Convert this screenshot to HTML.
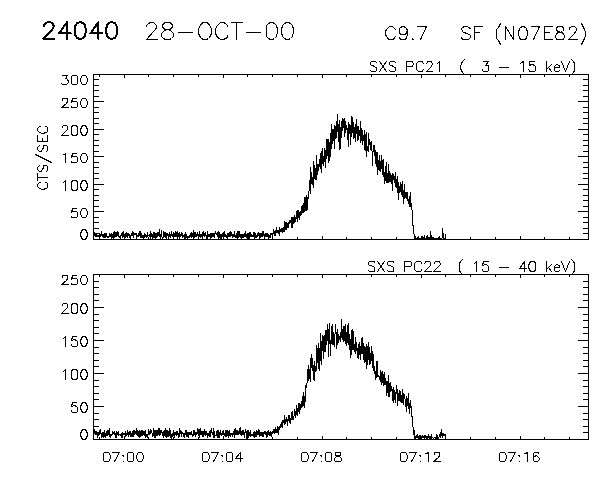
<!DOCTYPE html>
<html><head><meta charset="utf-8"><title>24040 28-OCT-00</title>
<style>
html,body{margin:0;padding:0;background:#fff;font-family:"Liberation Sans",sans-serif;}
svg{display:block;}
</style></head>
<body>
<svg width="600" height="480" viewBox="0 0 600 480">
<rect x="0" y="0" width="600" height="480" fill="#fff"/>
<g fill="none" stroke="#000" stroke-width="1" shape-rendering="crispEdges" stroke-linecap="square" stroke-linejoin="miter">
<path d="M93.5 74.5 H588.5 V239.5 H93.5 Z M99.5 75 v2 M99.5 239 v-2 M124.5 75 v3 M124.5 239 v-3 M148.5 75 v2 M148.5 239 v-2 M173.5 75 v2 M173.5 239 v-2 M198.5 75 v2 M198.5 239 v-2 M223.5 75 v3 M223.5 239 v-3 M247.5 75 v2 M247.5 239 v-2 M272.5 75 v2 M272.5 239 v-2 M297.5 75 v2 M297.5 239 v-2 M322.5 75 v3 M322.5 239 v-3 M346.5 75 v2 M346.5 239 v-2 M371.5 75 v2 M371.5 239 v-2 M396.5 75 v2 M396.5 239 v-2 M421.5 75 v3 M421.5 239 v-3 M445.5 75 v2 M445.5 239 v-2 M470.5 75 v2 M470.5 239 v-2 M495.5 75 v2 M495.5 239 v-2 M520.5 75 v3 M520.5 239 v-3 M544.5 75 v2 M544.5 239 v-2 M569.5 75 v2 M569.5 239 v-2 M94 233.5 h5 M588 233.5 h-5 M94 228.5 h5 M588 228.5 h-5 M94 222.5 h5 M588 222.5 h-5 M94 217.5 h5 M588 217.5 h-5 M94 211.5 h10 M588 211.5 h-10 M94 206.5 h5 M588 206.5 h-5 M94 200.5 h5 M588 200.5 h-5 M94 195.5 h5 M588 195.5 h-5 M94 189.5 h5 M588 189.5 h-5 M94 184.5 h10 M588 184.5 h-10 M94 178.5 h5 M588 178.5 h-5 M94 173.5 h5 M588 173.5 h-5 M94 167.5 h5 M588 167.5 h-5 M94 162.5 h5 M588 162.5 h-5 M94 156.5 h10 M588 156.5 h-10 M94 151.5 h5 M588 151.5 h-5 M94 145.5 h5 M588 145.5 h-5 M94 140.5 h5 M588 140.5 h-5 M94 134.5 h5 M588 134.5 h-5 M94 129.5 h10 M588 129.5 h-10 M94 123.5 h5 M588 123.5 h-5 M94 118.5 h5 M588 118.5 h-5 M94 112.5 h5 M588 112.5 h-5 M94 107.5 h5 M588 107.5 h-5 M94 101.5 h10 M588 101.5 h-10 M94 96.5 h5 M588 96.5 h-5 M94 90.5 h5 M588 90.5 h-5 M94 85.5 h5 M588 85.5 h-5 M94 79.5 h5 M588 79.5 h-5" stroke-width="1" stroke-linecap="butt"/>
<path d="M93.5 274.5 H588.5 V439.5 H93.5 Z M99.5 275 v2 M99.5 439 v-2 M124.5 275 v3 M124.5 439 v-3 M148.5 275 v2 M148.5 439 v-2 M173.5 275 v2 M173.5 439 v-2 M198.5 275 v2 M198.5 439 v-2 M223.5 275 v3 M223.5 439 v-3 M247.5 275 v2 M247.5 439 v-2 M272.5 275 v2 M272.5 439 v-2 M297.5 275 v2 M297.5 439 v-2 M322.5 275 v3 M322.5 439 v-3 M346.5 275 v2 M346.5 439 v-2 M371.5 275 v2 M371.5 439 v-2 M396.5 275 v2 M396.5 439 v-2 M421.5 275 v3 M421.5 439 v-3 M445.5 275 v2 M445.5 439 v-2 M470.5 275 v2 M470.5 439 v-2 M495.5 275 v2 M495.5 439 v-2 M520.5 275 v3 M520.5 439 v-3 M544.5 275 v2 M544.5 439 v-2 M569.5 275 v2 M569.5 439 v-2 M94 432.5 h5 M588 432.5 h-5 M94 426.5 h5 M588 426.5 h-5 M94 419.5 h5 M588 419.5 h-5 M94 413.5 h5 M588 413.5 h-5 M94 406.5 h10 M588 406.5 h-10 M94 399.5 h5 M588 399.5 h-5 M94 393.5 h5 M588 393.5 h-5 M94 386.5 h5 M588 386.5 h-5 M94 380.5 h5 M588 380.5 h-5 M94 373.5 h10 M588 373.5 h-10 M94 366.5 h5 M588 366.5 h-5 M94 360.5 h5 M588 360.5 h-5 M94 353.5 h5 M588 353.5 h-5 M94 347.5 h5 M588 347.5 h-5 M94 340.5 h10 M588 340.5 h-10 M94 333.5 h5 M588 333.5 h-5 M94 327.5 h5 M588 327.5 h-5 M94 320.5 h5 M588 320.5 h-5 M94 314.5 h5 M588 314.5 h-5 M94 307.5 h10 M588 307.5 h-10 M94 300.5 h5 M588 300.5 h-5 M94 294.5 h5 M588 294.5 h-5 M94 287.5 h5 M588 287.5 h-5 M94 281.5 h5 M588 281.5 h-5" stroke-width="1" stroke-linecap="butt"/>
<path d="M83.5 229.5 L82.5 229.5 L81.5 231.5 L80.5 233.5 L80.5 235.5 L81.5 237.5 L82.5 239.5 L83.5 239.5 L84.5 239.5 L85.5 239.5 L86.5 237.5 L87.5 235.5 L87.5 233.5 L86.5 231.5 L85.5 229.5 L84.5 229.5 L83.5 229.5 M76.5 208.5 L72.5 208.5 L71.5 212.5 L72.5 211.5 L73.5 211.5 L74.5 211.5 L76.5 211.5 L77.5 212.5 L77.5 214.5 L77.5 215.5 L77.5 216.5 L76.5 217.5 L74.5 217.5 L73.5 217.5 L72.5 217.5 L71.5 217.5 L71.5 216.5 M83.5 208.5 L82.5 208.5 L81.5 209.5 L80.5 212.5 L80.5 213.5 L81.5 216.5 L82.5 217.5 L83.5 217.5 L84.5 217.5 L85.5 217.5 L86.5 216.5 L87.5 213.5 L87.5 212.5 L86.5 209.5 L85.5 208.5 L84.5 208.5 L83.5 208.5 M63.5 182.5 L64.5 181.5 L65.5 180.5 L65.5 190.5 M74.5 180.5 L72.5 180.5 L71.5 182.5 L71.5 184.5 L71.5 186.5 L71.5 188.5 L72.5 190.5 L74.5 190.5 L76.5 190.5 L77.5 188.5 L77.5 186.5 L77.5 184.5 L77.5 182.5 L76.5 180.5 L74.5 180.5 M83.5 180.5 L82.5 180.5 L81.5 182.5 L80.5 184.5 L80.5 186.5 L81.5 188.5 L82.5 190.5 L83.5 190.5 L84.5 190.5 L85.5 190.5 L86.5 188.5 L87.5 186.5 L87.5 184.5 L86.5 182.5 L85.5 180.5 L84.5 180.5 L83.5 180.5 M63.5 154.5 L64.5 154.5 L65.5 153.5 L65.5 162.5 M76.5 153.5 L72.5 153.5 L71.5 157.5 L72.5 156.5 L73.5 156.5 L74.5 156.5 L76.5 156.5 L77.5 157.5 L77.5 159.5 L77.5 160.5 L77.5 161.5 L76.5 162.5 L74.5 162.5 L73.5 162.5 L72.5 162.5 L71.5 162.5 L71.5 161.5 M83.5 153.5 L82.5 153.5 L81.5 154.5 L80.5 157.5 L80.5 158.5 L81.5 161.5 L82.5 162.5 L83.5 162.5 L84.5 162.5 L85.5 162.5 L86.5 161.5 L87.5 158.5 L87.5 157.5 L86.5 154.5 L85.5 153.5 L84.5 153.5 L83.5 153.5 M62.5 127.5 L62.5 126.5 L63.5 125.5 L64.5 125.5 L65.5 125.5 L66.5 125.5 L67.5 126.5 L67.5 127.5 L67.5 128.5 L67.5 129.5 L66.5 130.5 L61.5 135.5 L68.5 135.5 M74.5 125.5 L72.5 125.5 L71.5 127.5 L71.5 129.5 L71.5 131.5 L71.5 133.5 L72.5 135.5 L74.5 135.5 L76.5 135.5 L77.5 133.5 L77.5 131.5 L77.5 129.5 L77.5 127.5 L76.5 125.5 L74.5 125.5 M83.5 125.5 L82.5 125.5 L81.5 127.5 L80.5 129.5 L80.5 131.5 L81.5 133.5 L82.5 135.5 L83.5 135.5 L84.5 135.5 L85.5 135.5 L86.5 133.5 L87.5 131.5 L87.5 129.5 L86.5 127.5 L85.5 125.5 L84.5 125.5 L83.5 125.5 M62.5 100.5 L62.5 99.5 L62.5 98.5 L63.5 98.5 L64.5 98.5 L65.5 98.5 L66.5 98.5 L67.5 98.5 L67.5 99.5 L67.5 100.5 L67.5 101.5 L66.5 103.5 L61.5 107.5 L68.5 107.5 M76.5 98.5 L72.5 98.5 L71.5 102.5 L72.5 101.5 L73.5 101.5 L74.5 101.5 L76.5 101.5 L77.5 102.5 L77.5 104.5 L77.5 105.5 L77.5 106.5 L76.5 107.5 L74.5 107.5 L73.5 107.5 L72.5 107.5 L71.5 107.5 L71.5 106.5 M83.5 98.5 L82.5 98.5 L81.5 99.5 L80.5 102.5 L80.5 103.5 L81.5 106.5 L82.5 107.5 L83.5 107.5 L84.5 107.5 L85.5 107.5 L86.5 106.5 L87.5 103.5 L87.5 102.5 L86.5 99.5 L85.5 98.5 L84.5 98.5 L83.5 98.5 M62.5 75.5 L67.5 75.5 L65.5 78.5 L66.5 78.5 L67.5 79.5 L68.5 81.5 L68.5 82.5 L67.5 83.5 L66.5 84.5 L65.5 84.5 L64.5 84.5 L62.5 84.5 L61.5 83.5 M74.5 75.5 L72.5 75.5 L71.5 76.5 L71.5 79.5 L71.5 80.5 L71.5 83.5 L72.5 84.5 L74.5 84.5 L76.5 84.5 L77.5 83.5 L77.5 80.5 L77.5 79.5 L77.5 76.5 L76.5 75.5 L74.5 75.5 M83.5 75.5 L82.5 75.5 L81.5 76.5 L80.5 79.5 L80.5 80.5 L81.5 83.5 L82.5 84.5 L83.5 84.5 L84.5 84.5 L85.5 84.5 L86.5 83.5 L87.5 80.5 L87.5 79.5 L86.5 76.5 L85.5 75.5 L84.5 75.5 L83.5 75.5" stroke-width="1"/>
<path d="M83.5 429.5 L82.5 429.5 L81.5 431.5 L80.5 433.5 L80.5 435.5 L81.5 437.5 L82.5 439.5 L83.5 439.5 L84.5 439.5 L85.5 439.5 L86.5 437.5 L87.5 435.5 L87.5 433.5 L86.5 431.5 L85.5 429.5 L84.5 429.5 L83.5 429.5 M76.5 402.5 L72.5 402.5 L71.5 406.5 L72.5 406.5 L73.5 405.5 L74.5 405.5 L76.5 406.5 L77.5 407.5 L77.5 408.5 L77.5 409.5 L77.5 411.5 L76.5 412.5 L74.5 412.5 L73.5 412.5 L72.5 412.5 L71.5 411.5 L71.5 410.5 M83.5 402.5 L82.5 402.5 L81.5 404.5 L80.5 406.5 L80.5 408.5 L81.5 410.5 L82.5 412.5 L83.5 412.5 L84.5 412.5 L85.5 412.5 L86.5 410.5 L87.5 408.5 L87.5 406.5 L86.5 404.5 L85.5 402.5 L84.5 402.5 L83.5 402.5 M63.5 371.5 L64.5 370.5 L65.5 369.5 L65.5 379.5 M74.5 369.5 L72.5 369.5 L71.5 371.5 L71.5 373.5 L71.5 375.5 L71.5 377.5 L72.5 379.5 L74.5 379.5 L76.5 379.5 L77.5 377.5 L77.5 375.5 L77.5 373.5 L77.5 371.5 L76.5 369.5 L74.5 369.5 M83.5 369.5 L82.5 369.5 L81.5 371.5 L80.5 373.5 L80.5 375.5 L81.5 377.5 L82.5 379.5 L83.5 379.5 L84.5 379.5 L85.5 379.5 L86.5 377.5 L87.5 375.5 L87.5 373.5 L86.5 371.5 L85.5 369.5 L84.5 369.5 L83.5 369.5 M63.5 338.5 L64.5 337.5 L65.5 336.5 L65.5 346.5 M76.5 336.5 L72.5 336.5 L71.5 340.5 L72.5 340.5 L73.5 339.5 L74.5 339.5 L76.5 340.5 L77.5 341.5 L77.5 342.5 L77.5 343.5 L77.5 345.5 L76.5 346.5 L74.5 346.5 L73.5 346.5 L72.5 346.5 L71.5 345.5 L71.5 344.5 M83.5 336.5 L82.5 336.5 L81.5 338.5 L80.5 340.5 L80.5 342.5 L81.5 344.5 L82.5 346.5 L83.5 346.5 L84.5 346.5 L85.5 346.5 L86.5 344.5 L87.5 342.5 L87.5 340.5 L86.5 338.5 L85.5 336.5 L84.5 336.5 L83.5 336.5 M62.5 305.5 L62.5 304.5 L63.5 303.5 L64.5 303.5 L65.5 303.5 L66.5 303.5 L67.5 304.5 L67.5 305.5 L67.5 306.5 L67.5 307.5 L66.5 308.5 L61.5 313.5 L68.5 313.5 M74.5 303.5 L72.5 303.5 L71.5 305.5 L71.5 307.5 L71.5 309.5 L71.5 311.5 L72.5 313.5 L74.5 313.5 L76.5 313.5 L77.5 311.5 L77.5 309.5 L77.5 307.5 L77.5 305.5 L76.5 303.5 L74.5 303.5 M83.5 303.5 L82.5 303.5 L81.5 305.5 L80.5 307.5 L80.5 309.5 L81.5 311.5 L82.5 313.5 L83.5 313.5 L84.5 313.5 L85.5 313.5 L86.5 311.5 L87.5 309.5 L87.5 307.5 L86.5 305.5 L85.5 303.5 L84.5 303.5 L83.5 303.5 M62.5 277.5 L62.5 276.5 L62.5 275.5 L63.5 275.5 L64.5 275.5 L65.5 275.5 L66.5 275.5 L67.5 275.5 L67.5 276.5 L67.5 277.5 L67.5 278.5 L66.5 280.5 L61.5 284.5 L68.5 284.5 M76.5 275.5 L72.5 275.5 L71.5 279.5 L72.5 278.5 L73.5 278.5 L74.5 278.5 L76.5 278.5 L77.5 279.5 L77.5 281.5 L77.5 282.5 L77.5 283.5 L76.5 284.5 L74.5 284.5 L73.5 284.5 L72.5 284.5 L71.5 284.5 L71.5 283.5 M83.5 275.5 L82.5 275.5 L81.5 276.5 L80.5 279.5 L80.5 280.5 L81.5 283.5 L82.5 284.5 L83.5 284.5 L84.5 284.5 L85.5 284.5 L86.5 283.5 L87.5 280.5 L87.5 279.5 L86.5 276.5 L85.5 275.5 L84.5 275.5 L83.5 275.5" stroke-width="1"/>
<path d="M106.5 452.5 L104.5 452.5 L103.5 453.5 L103.5 456.5 L103.5 457.5 L103.5 460.5 L104.5 461.5 L106.5 461.5 L107.5 461.5 L108.5 461.5 L109.5 460.5 L110.5 457.5 L110.5 456.5 L109.5 453.5 L108.5 452.5 L107.5 452.5 L106.5 452.5 M119.5 452.5 L114.5 461.5 M112.5 452.5 L119.5 452.5 M123.5 455.5 L122.5 455.5 L123.5 456.5 L123.5 455.5 M123.5 461.5 L122.5 461.5 L123.5 461.5 M130.5 452.5 L128.5 452.5 L127.5 453.5 L127.5 456.5 L127.5 457.5 L127.5 460.5 L128.5 461.5 L130.5 461.5 L131.5 461.5 L132.5 461.5 L133.5 460.5 L133.5 457.5 L133.5 456.5 L133.5 453.5 L132.5 452.5 L131.5 452.5 L130.5 452.5 M139.5 452.5 L138.5 452.5 L137.5 453.5 L136.5 456.5 L136.5 457.5 L137.5 460.5 L138.5 461.5 L139.5 461.5 L140.5 461.5 L141.5 461.5 L142.5 460.5 L143.5 457.5 L143.5 456.5 L142.5 453.5 L141.5 452.5 L140.5 452.5 L139.5 452.5 M205.5 452.5 L203.5 452.5 L202.5 453.5 L202.5 456.5 L202.5 457.5 L202.5 460.5 L203.5 461.5 L205.5 461.5 L206.5 461.5 L207.5 461.5 L208.5 460.5 L209.5 457.5 L209.5 456.5 L208.5 453.5 L207.5 452.5 L206.5 452.5 L205.5 452.5 M218.5 452.5 L213.5 461.5 M211.5 452.5 L218.5 452.5 M222.5 455.5 L221.5 455.5 L222.5 456.5 L222.5 455.5 M222.5 461.5 L221.5 461.5 L222.5 461.5 M229.5 452.5 L227.5 452.5 L226.5 453.5 L226.5 456.5 L226.5 457.5 L226.5 460.5 L227.5 461.5 L229.5 461.5 L230.5 461.5 L231.5 461.5 L232.5 460.5 L232.5 457.5 L232.5 456.5 L232.5 453.5 L231.5 452.5 L230.5 452.5 L229.5 452.5 M240.5 452.5 L235.5 458.5 L242.5 458.5 M240.5 452.5 L240.5 461.5 M304.5 452.5 L302.5 452.5 L301.5 453.5 L301.5 456.5 L301.5 457.5 L301.5 460.5 L302.5 461.5 L304.5 461.5 L305.5 461.5 L306.5 461.5 L307.5 460.5 L308.5 457.5 L308.5 456.5 L307.5 453.5 L306.5 452.5 L305.5 452.5 L304.5 452.5 M317.5 452.5 L312.5 461.5 M310.5 452.5 L317.5 452.5 M321.5 455.5 L320.5 455.5 L321.5 456.5 L321.5 455.5 M321.5 461.5 L320.5 461.5 L321.5 461.5 M328.5 452.5 L326.5 452.5 L325.5 453.5 L325.5 456.5 L325.5 457.5 L325.5 460.5 L326.5 461.5 L328.5 461.5 L329.5 461.5 L330.5 461.5 L331.5 460.5 L331.5 457.5 L331.5 456.5 L331.5 453.5 L330.5 452.5 L329.5 452.5 L328.5 452.5 M337.5 452.5 L335.5 452.5 L335.5 453.5 L335.5 454.5 L335.5 455.5 L336.5 455.5 L338.5 456.5 L339.5 456.5 L340.5 457.5 L341.5 458.5 L341.5 460.5 L340.5 461.5 L338.5 461.5 L337.5 461.5 L335.5 461.5 L334.5 460.5 L334.5 458.5 L335.5 457.5 L336.5 456.5 L337.5 456.5 L339.5 455.5 L340.5 455.5 L340.5 454.5 L340.5 453.5 L340.5 452.5 L338.5 452.5 L337.5 452.5 M403.5 452.5 L401.5 452.5 L400.5 453.5 L400.5 456.5 L400.5 457.5 L400.5 460.5 L401.5 461.5 L403.5 461.5 L404.5 461.5 L405.5 461.5 L406.5 460.5 L407.5 457.5 L407.5 456.5 L406.5 453.5 L405.5 452.5 L404.5 452.5 L403.5 452.5 M416.5 452.5 L411.5 461.5 M409.5 452.5 L416.5 452.5 M420.5 455.5 L419.5 455.5 L420.5 456.5 L420.5 455.5 M420.5 461.5 L419.5 461.5 L420.5 461.5 M425.5 453.5 L426.5 453.5 L428.5 452.5 L428.5 461.5 M434.5 454.5 L434.5 453.5 L434.5 452.5 L435.5 452.5 L436.5 452.5 L437.5 452.5 L438.5 452.5 L439.5 452.5 L439.5 453.5 L439.5 454.5 L439.5 455.5 L438.5 457.5 L433.5 461.5 L440.5 461.5 M502.5 452.5 L500.5 452.5 L499.5 453.5 L499.5 456.5 L499.5 457.5 L499.5 460.5 L500.5 461.5 L502.5 461.5 L503.5 461.5 L504.5 461.5 L505.5 460.5 L506.5 457.5 L506.5 456.5 L505.5 453.5 L504.5 452.5 L503.5 452.5 L502.5 452.5 M515.5 452.5 L510.5 461.5 M508.5 452.5 L515.5 452.5 M519.5 455.5 L518.5 455.5 L519.5 456.5 L519.5 455.5 M519.5 461.5 L518.5 461.5 L519.5 461.5 M524.5 453.5 L525.5 453.5 L527.5 452.5 L527.5 461.5 M538.5 453.5 L538.5 452.5 L536.5 452.5 L534.5 452.5 L533.5 453.5 L533.5 456.5 L533.5 458.5 L533.5 460.5 L534.5 461.5 L536.5 461.5 L537.5 461.5 L538.5 460.5 L539.5 459.5 L539.5 458.5 L538.5 457.5 L537.5 456.5 L536.5 455.5 L534.5 456.5 L533.5 457.5 L533.5 458.5" stroke-width="1"/>
<path d="M376.5 62.5 L375.5 61.5 L374.5 61.5 L372.5 61.5 L371.5 61.5 L370.5 62.5 L370.5 63.5 L370.5 64.5 L371.5 65.5 L372.5 65.5 L374.5 66.5 L375.5 67.5 L376.5 67.5 L376.5 68.5 L376.5 70.5 L375.5 71.5 L374.5 71.5 L372.5 71.5 L371.5 71.5 L370.5 70.5 M379.5 61.5 L386.5 71.5 M386.5 61.5 L379.5 71.5 M395.5 62.5 L394.5 61.5 L393.5 61.5 L391.5 61.5 L390.5 61.5 L389.5 62.5 L389.5 63.5 L389.5 64.5 L390.5 65.5 L391.5 65.5 L393.5 66.5 L394.5 67.5 L395.5 67.5 L395.5 68.5 L395.5 70.5 L394.5 71.5 L393.5 71.5 L391.5 71.5 L390.5 71.5 L389.5 70.5 M406.5 61.5 L406.5 71.5 M406.5 61.5 L411.5 61.5 L412.5 61.5 L412.5 62.5 L413.5 63.5 L413.5 64.5 L412.5 65.5 L412.5 66.5 L411.5 66.5 L406.5 66.5 M423.5 63.5 L422.5 62.5 L422.5 61.5 L421.5 61.5 L419.5 61.5 L418.5 61.5 L417.5 62.5 L416.5 63.5 L416.5 65.5 L416.5 67.5 L416.5 69.5 L417.5 70.5 L418.5 71.5 L419.5 71.5 L421.5 71.5 L422.5 71.5 L422.5 70.5 L423.5 69.5 M426.5 63.5 L427.5 62.5 L427.5 61.5 L428.5 61.5 L430.5 61.5 L431.5 61.5 L431.5 62.5 L432.5 63.5 L432.5 64.5 L431.5 65.5 L431.5 66.5 L426.5 71.5 L432.5 71.5 M437.5 63.5 L438.5 62.5 L439.5 61.5 L439.5 71.5 M464.5 59.5 L463.5 60.5 L462.5 61.5 L461.5 63.5 L460.5 66.5 L460.5 68.5 L461.5 70.5 L462.5 72.5 L463.5 73.5 L464.5 74.5 M483.5 61.5 L488.5 61.5 L485.5 65.5 L487.5 65.5 L488.5 65.5 L488.5 66.5 L488.5 67.5 L488.5 68.5 L488.5 70.5 L487.5 71.5 L486.5 71.5 L484.5 71.5 L483.5 71.5 L482.5 70.5 L482.5 69.5 M499.5 67.5 L508.5 67.5 M520.5 63.5 L521.5 62.5 L523.5 61.5 L523.5 71.5 M534.5 61.5 L529.5 61.5 L529.5 65.5 L531.5 64.5 L532.5 64.5 L534.5 65.5 L535.5 66.5 L535.5 67.5 L535.5 68.5 L535.5 70.5 L534.5 71.5 L532.5 71.5 L531.5 71.5 L529.5 71.5 L529.5 70.5 L528.5 69.5 M546.5 61.5 L546.5 71.5 M551.5 64.5 L546.5 69.5 M548.5 67.5 L551.5 71.5 M554.5 67.5 L559.5 67.5 L559.5 66.5 L559.5 65.5 L558.5 65.5 L557.5 64.5 L556.5 64.5 L555.5 65.5 L554.5 66.5 L554.5 67.5 L554.5 68.5 L554.5 70.5 L555.5 71.5 L556.5 71.5 L557.5 71.5 L558.5 71.5 L559.5 70.5 M561.5 61.5 L565.5 71.5 M569.5 61.5 L565.5 71.5 M571.5 59.5 L572.5 60.5 L573.5 61.5 L574.5 63.5 L574.5 66.5 L574.5 68.5 L574.5 70.5 L573.5 72.5 L572.5 73.5 L571.5 74.5" stroke-width="1"/>
<path d="M374.5 262.5 L374.5 261.5 L372.5 261.5 L370.5 261.5 L369.5 261.5 L368.5 262.5 L368.5 263.5 L368.5 264.5 L369.5 265.5 L370.5 265.5 L373.5 266.5 L374.5 267.5 L374.5 268.5 L374.5 270.5 L374.5 271.5 L372.5 271.5 L370.5 271.5 L369.5 271.5 L368.5 270.5 M377.5 261.5 L384.5 271.5 M384.5 261.5 L377.5 271.5 M393.5 262.5 L393.5 261.5 L391.5 261.5 L389.5 261.5 L388.5 261.5 L387.5 262.5 L387.5 263.5 L387.5 264.5 L388.5 265.5 L389.5 265.5 L392.5 266.5 L393.5 267.5 L393.5 268.5 L393.5 270.5 L393.5 271.5 L391.5 271.5 L389.5 271.5 L388.5 271.5 L387.5 270.5 M404.5 261.5 L404.5 271.5 M404.5 261.5 L409.5 261.5 L410.5 261.5 L411.5 262.5 L411.5 263.5 L411.5 264.5 L411.5 265.5 L410.5 266.5 L409.5 266.5 L404.5 266.5 M421.5 263.5 L421.5 262.5 L420.5 261.5 L419.5 261.5 L417.5 261.5 L416.5 261.5 L415.5 262.5 L414.5 263.5 L414.5 265.5 L414.5 267.5 L414.5 269.5 L415.5 270.5 L416.5 271.5 L417.5 271.5 L419.5 271.5 L420.5 271.5 L421.5 270.5 L421.5 269.5 M424.5 263.5 L425.5 262.5 L425.5 261.5 L426.5 261.5 L428.5 261.5 L429.5 261.5 L430.5 262.5 L430.5 263.5 L430.5 264.5 L430.5 265.5 L429.5 266.5 L424.5 271.5 L431.5 271.5 M434.5 263.5 L434.5 262.5 L435.5 261.5 L436.5 261.5 L438.5 261.5 L439.5 261.5 L439.5 262.5 L440.5 263.5 L440.5 264.5 L439.5 265.5 L438.5 266.5 L433.5 271.5 L440.5 271.5 M462.5 259.5 L461.5 260.5 L460.5 261.5 L459.5 263.5 L459.5 266.5 L459.5 268.5 L459.5 270.5 L460.5 272.5 L461.5 273.5 L462.5 274.5 M474.5 263.5 L475.5 262.5 L476.5 261.5 L476.5 271.5 M488.5 261.5 L483.5 261.5 L482.5 265.5 L483.5 265.5 L484.5 264.5 L486.5 264.5 L487.5 265.5 L488.5 266.5 L488.5 267.5 L488.5 268.5 L488.5 270.5 L487.5 271.5 L486.5 271.5 L484.5 271.5 L483.5 271.5 L482.5 270.5 L482.5 269.5 M499.5 267.5 L508.5 267.5 M524.5 261.5 L519.5 268.5 L526.5 268.5 M524.5 261.5 L524.5 271.5 M531.5 261.5 L530.5 261.5 L529.5 263.5 L528.5 265.5 L528.5 267.5 L529.5 269.5 L530.5 271.5 L531.5 271.5 L532.5 271.5 L534.5 271.5 L535.5 269.5 L535.5 267.5 L535.5 265.5 L535.5 263.5 L534.5 261.5 L532.5 261.5 L531.5 261.5 M546.5 261.5 L546.5 271.5 M551.5 264.5 L546.5 269.5 M548.5 267.5 L551.5 271.5 M554.5 267.5 L559.5 267.5 L559.5 266.5 L559.5 265.5 L558.5 265.5 L557.5 264.5 L556.5 264.5 L555.5 265.5 L554.5 266.5 L554.5 267.5 L554.5 268.5 L554.5 270.5 L555.5 271.5 L556.5 271.5 L557.5 271.5 L558.5 271.5 L559.5 270.5 M561.5 261.5 L565.5 271.5 M569.5 261.5 L565.5 271.5 M571.5 259.5 L572.5 260.5 L573.5 261.5 L574.5 263.5 L574.5 266.5 L574.5 268.5 L574.5 270.5 L573.5 272.5 L572.5 273.5 L571.5 274.5" stroke-width="1"/>
<path d="M40.5 182.5 L39.5 182.5 L38.5 183.5 L37.5 184.5 L37.5 186.5 L38.5 187.5 L39.5 188.5 L40.5 188.5 L41.5 189.5 L43.5 189.5 L45.5 188.5 L46.5 188.5 L47.5 187.5 L47.5 186.5 L47.5 184.5 L47.5 183.5 L46.5 182.5 L45.5 182.5 M37.5 177.5 L47.5 177.5 M37.5 180.5 L37.5 173.5 M39.5 165.5 L38.5 166.5 L37.5 167.5 L37.5 169.5 L38.5 170.5 L39.5 171.5 L40.5 171.5 L41.5 171.5 L41.5 170.5 L42.5 169.5 L43.5 167.5 L43.5 166.5 L43.5 165.5 L44.5 165.5 L46.5 165.5 L47.5 166.5 L47.5 167.5 L47.5 169.5 L47.5 170.5 L46.5 171.5 M35.5 154.5 L51.5 162.5 M39.5 145.5 L38.5 146.5 L37.5 147.5 L37.5 149.5 L38.5 150.5 L39.5 151.5 L40.5 151.5 L41.5 151.5 L41.5 150.5 L42.5 149.5 L43.5 147.5 L43.5 146.5 L43.5 145.5 L44.5 145.5 L46.5 145.5 L47.5 146.5 L47.5 147.5 L47.5 149.5 L47.5 150.5 L46.5 151.5 M37.5 141.5 L47.5 141.5 M37.5 141.5 L37.5 135.5 M42.5 141.5 L42.5 138.5 M47.5 141.5 L47.5 135.5 M40.5 126.5 L39.5 126.5 L38.5 127.5 L37.5 128.5 L37.5 130.5 L38.5 131.5 L39.5 132.5 L40.5 132.5 L41.5 133.5 L43.5 133.5 L45.5 132.5 L46.5 132.5 L47.5 131.5 L47.5 130.5 L47.5 128.5 L47.5 127.5 L46.5 126.5 L45.5 126.5" stroke-width="1"/>
<path d="M44.14 26.24 L44.14 25.45 L44.92 23.88 L45.71 23.1 L47.28 22.31 L50.42 22.31 L51.99 23.1 L52.77 23.88 L53.56 25.45 L53.56 27.03 L52.77 28.6 L51.2 30.95 L43.35 38.8 L54.34 38.8 M66.91 22.31 L59.05 33.31 L70.83 33.31 M66.91 22.31 L66.91 38.8 M79.47 22.31 L77.11 23.1 L75.54 25.45 L74.75 29.38 L74.75 31.74 L75.54 35.66 L77.11 38.01 L79.47 38.8 L81.03 38.8 L83.39 38.01 L84.96 35.66 L85.75 31.74 L85.75 29.38 L84.96 25.45 L83.39 23.1 L81.03 22.31 L79.47 22.31 M98.31 22.31 L90.46 33.31 L102.23 33.31 M98.31 22.31 L98.31 38.8 M110.87 22.31 L108.51 23.1 L106.94 25.45 L106.16 29.38 L106.16 31.74 L106.94 35.66 L108.51 38.01 L110.87 38.8 L112.44 38.8 L114.79 38.01 L116.36 35.66 L117.14 31.74 L117.14 29.38 L116.36 25.45 L114.79 23.1 L112.44 22.31 L110.87 22.31" stroke-width="2" stroke-linecap="round" stroke-linejoin="round"/>
<path d="M146.5 26.5 L146.5 25.5 L147.5 24.5 L148.5 23.5 L150.5 22.5 L153.5 22.5 L154.5 23.5 L155.5 24.5 L156.5 25.5 L156.5 27.5 L155.5 29.5 L153.5 31.5 L146.5 39.5 L157.5 39.5 M165.5 22.5 L163.5 23.5 L162.5 25.5 L162.5 26.5 L163.5 28.5 L165.5 29.5 L168.5 29.5 L170.5 30.5 L172.5 32.5 L173.5 33.5 L173.5 36.5 L172.5 37.5 L171.5 38.5 L169.5 39.5 L165.5 39.5 L163.5 38.5 L162.5 37.5 L161.5 36.5 L161.5 33.5 L162.5 32.5 L164.5 30.5 L166.5 29.5 L169.5 29.5 L171.5 28.5 L172.5 26.5 L172.5 25.5 L171.5 23.5 L169.5 22.5 L165.5 22.5 M178.5 32.5 L192.5 32.5 M203.5 22.5 L201.5 23.5 L200.5 25.5 L199.5 26.5 L198.5 29.5 L198.5 33.5 L199.5 35.5 L200.5 37.5 L201.5 38.5 L203.5 39.5 L206.5 39.5 L208.5 38.5 L209.5 37.5 L210.5 35.5 L211.5 33.5 L211.5 29.5 L210.5 26.5 L209.5 25.5 L208.5 23.5 L206.5 22.5 L203.5 22.5 M227.5 26.5 L227.5 25.5 L225.5 23.5 L223.5 22.5 L220.5 22.5 L219.5 23.5 L217.5 25.5 L216.5 26.5 L215.5 29.5 L215.5 33.5 L216.5 35.5 L217.5 37.5 L219.5 38.5 L220.5 39.5 L223.5 39.5 L225.5 38.5 L227.5 37.5 L227.5 35.5 M236.5 22.5 L236.5 39.5 M231.5 22.5 L242.5 22.5 M246.5 32.5 L260.5 32.5 M270.5 22.5 L268.5 23.5 L266.5 25.5 L266.5 29.5 L266.5 32.5 L266.5 36.5 L268.5 38.5 L270.5 39.5 L272.5 39.5 L274.5 38.5 L276.5 36.5 L277.5 32.5 L277.5 29.5 L276.5 25.5 L274.5 23.5 L272.5 22.5 L270.5 22.5 M286.5 22.5 L284.5 23.5 L282.5 25.5 L281.5 29.5 L281.5 32.5 L282.5 36.5 L284.5 38.5 L286.5 39.5 L288.5 39.5 L290.5 38.5 L292.5 36.5 L293.5 32.5 L293.5 29.5 L292.5 25.5 L290.5 23.5 L288.5 22.5 L286.5 22.5" stroke-width="1"/>
<path d="M395.5 29.5 L394.5 28.5 L393.5 27.5 L392.5 26.5 L389.5 26.5 L388.5 27.5 L387.5 28.5 L386.5 29.5 L385.5 31.5 L385.5 34.5 L386.5 36.5 L387.5 37.5 L388.5 39.5 L389.5 39.5 L392.5 39.5 L393.5 39.5 L394.5 37.5 L395.5 36.5 M407.5 30.5 L406.5 32.5 L405.5 34.5 L403.5 34.5 L402.5 34.5 L400.5 34.5 L399.5 32.5 L399.5 30.5 L399.5 28.5 L400.5 27.5 L402.5 26.5 L403.5 26.5 L405.5 27.5 L406.5 28.5 L407.5 30.5 L407.5 34.5 L406.5 37.5 L405.5 39.5 L403.5 39.5 L402.5 39.5 L400.5 39.5 L399.5 37.5 M412.5 38.5 L412.5 39.5 L413.5 39.5 L412.5 38.5 M426.5 26.5 L420.5 39.5 M417.5 26.5 L426.5 26.5" stroke-width="1"/>
<path d="M470.5 28.5 L468.5 27.5 L467.5 26.5 L464.5 26.5 L462.5 27.5 L461.5 28.5 L461.5 29.5 L462.5 30.5 L462.5 31.5 L463.5 32.5 L467.5 33.5 L468.5 34.5 L469.5 34.5 L470.5 35.5 L470.5 37.5 L468.5 39.5 L467.5 39.5 L464.5 39.5 L462.5 39.5 L461.5 37.5 M474.5 26.5 L474.5 39.5 M474.5 26.5 L482.5 26.5 M474.5 32.5 L479.5 32.5 M500.5 23.5 L499.5 25.5 L498.5 27.5 L496.5 29.5 L496.5 32.5 L496.5 35.5 L496.5 38.5 L498.5 40.5 L499.5 42.5 L500.5 44.5 M505.5 26.5 L505.5 39.5 M505.5 26.5 L513.5 39.5 M513.5 26.5 L513.5 39.5 M522.5 26.5 L520.5 27.5 L519.5 28.5 L518.5 32.5 L518.5 34.5 L519.5 37.5 L520.5 39.5 L522.5 39.5 L523.5 39.5 L525.5 39.5 L526.5 37.5 L527.5 34.5 L527.5 32.5 L526.5 28.5 L525.5 27.5 L523.5 26.5 L522.5 26.5 M539.5 26.5 L533.5 39.5 M531.5 26.5 L539.5 26.5 M544.5 26.5 L544.5 39.5 M544.5 26.5 L552.5 26.5 M544.5 32.5 L549.5 32.5 M544.5 39.5 L552.5 39.5 M558.5 26.5 L556.5 27.5 L556.5 28.5 L556.5 29.5 L556.5 30.5 L558.5 31.5 L560.5 32.5 L562.5 32.5 L563.5 34.5 L564.5 35.5 L564.5 37.5 L563.5 38.5 L563.5 39.5 L561.5 39.5 L558.5 39.5 L556.5 39.5 L556.5 38.5 L555.5 37.5 L555.5 35.5 L556.5 34.5 L557.5 32.5 L559.5 32.5 L562.5 31.5 L563.5 30.5 L563.5 29.5 L563.5 28.5 L563.5 27.5 L561.5 26.5 L558.5 26.5 M569.5 29.5 L569.5 28.5 L569.5 27.5 L570.5 27.5 L571.5 26.5 L574.5 26.5 L575.5 27.5 L576.5 28.5 L576.5 30.5 L575.5 31.5 L574.5 33.5 L568.5 39.5 L577.5 39.5 M581.5 23.5 L582.5 25.5 L583.5 27.5 L584.5 29.5 L585.5 32.5 L585.5 35.5 L584.5 38.5 L583.5 40.5 L582.5 42.5 L581.5 44.5" stroke-width="1"/>
<path d="M93.5 231.5 L93.5 233.5 L94.5 232.5 L94.5 233.5 L94.5 234.5 L95.5 236.5 L95.5 233.5 L95.5 235.5 L96.5 235.5 L96.5 236.5 L96.5 235.5 L96.5 234.5 L97.5 235.5 L97.5 236.5 L98.5 236.5 L98.5 235.5 L98.5 236.5 L99.5 233.5 L99.5 236.5 L100.5 234.5 L100.5 236.5 L101.5 233.5 L101.5 232.5 L101.5 235.5 L101.5 231.5 L102.5 236.5 L102.5 233.5 L102.5 236.5 L103.5 235.5 L103.5 233.5 L103.5 235.5 L103.5 237.5 L104.5 236.5 L104.5 232.5 L104.5 237.5 L105.5 237.5 L105.5 232.5 L105.5 233.5 L106.5 235.5 L106.5 236.5 L106.5 232.5 L106.5 236.5 L107.5 236.5 L107.5 235.5 L107.5 237.5 L108.5 236.5 L108.5 237.5 L109.5 236.5 L109.5 235.5 L109.5 233.5 L110.5 236.5 L110.5 234.5 L110.5 236.5 L110.5 235.5 L111.5 233.5 L111.5 238.5 L112.5 234.5 L112.5 233.5 L112.5 237.5 L112.5 235.5 L113.5 238.5 L113.5 234.5 L113.5 236.5 L113.5 233.5 L114.5 231.5 L114.5 237.5 L114.5 234.5 L114.5 235.5 L115.5 236.5 L115.5 231.5 L115.5 236.5 L116.5 236.5 L116.5 231.5 L116.5 233.5 L116.5 236.5 L117.5 234.5 L117.5 232.5 L117.5 234.5 L117.5 231.5 L118.5 233.5 L118.5 236.5 L118.5 233.5 L118.5 234.5 L119.5 237.5 L119.5 236.5 L120.5 239.5 L120.5 237.5 L120.5 234.5 L120.5 236.5 L121.5 233.5 L121.5 235.5 L121.5 232.5 L121.5 233.5 L122.5 236.5 L122.5 231.5 L122.5 237.5 L122.5 236.5 L123.5 236.5 L123.5 231.5 L124.5 236.5 L124.5 235.5 L124.5 236.5 L124.5 235.5 L125.5 233.5 L125.5 234.5 L125.5 237.5 L126.5 232.5 L126.5 236.5 L127.5 237.5 L127.5 236.5 L127.5 235.5 L127.5 233.5 L128.5 233.5 L128.5 234.5 L128.5 235.5 L128.5 233.5 L129.5 237.5 L129.5 236.5 L129.5 234.5 L130.5 238.5 L130.5 236.5 L130.5 237.5 L131.5 233.5 L131.5 235.5 L132.5 231.5 L132.5 235.5 L132.5 234.5 L132.5 233.5 L133.5 236.5 L133.5 237.5 L133.5 236.5 L133.5 232.5 L134.5 234.5 L134.5 233.5 L135.5 233.5 L135.5 234.5 L135.5 233.5 L136.5 233.5 L136.5 236.5 L136.5 238.5 L137.5 235.5 L138.5 236.5 L138.5 233.5 L138.5 235.5 L139.5 231.5 L139.5 234.5 L139.5 235.5 L140.5 232.5 L140.5 234.5 L140.5 237.5 L140.5 231.5 L141.5 235.5 L141.5 237.5 L141.5 233.5 L142.5 237.5 L142.5 236.5 L142.5 237.5 L143.5 235.5 L143.5 238.5 L143.5 237.5 L144.5 234.5 L144.5 236.5 L144.5 237.5 L144.5 233.5 L145.5 235.5 L145.5 236.5 L145.5 234.5 L146.5 236.5 L146.5 234.5 L146.5 237.5 L147.5 233.5 L147.5 231.5 L147.5 236.5 L148.5 235.5 L148.5 234.5 L148.5 235.5 L149.5 234.5 L149.5 233.5 L149.5 234.5 L149.5 236.5 L150.5 235.5 L150.5 233.5 L150.5 238.5 L150.5 231.5 L151.5 236.5 L151.5 235.5 L151.5 233.5 L152.5 236.5 L152.5 233.5 L152.5 238.5 L153.5 234.5 L153.5 237.5 L153.5 231.5 L153.5 233.5 L154.5 235.5 L154.5 231.5 L154.5 236.5 L155.5 238.5 L155.5 233.5 L155.5 236.5 L155.5 233.5 L156.5 234.5 L156.5 232.5 L156.5 237.5 L157.5 236.5 L157.5 233.5 L157.5 236.5 L157.5 232.5 L158.5 233.5 L158.5 235.5 L158.5 234.5 L159.5 229.5 L159.5 235.5 L159.5 236.5 L160.5 234.5 L160.5 235.5 L160.5 238.5 L161.5 230.5 L161.5 234.5 L161.5 231.5 L161.5 235.5 L162.5 238.5 L162.5 236.5 L162.5 237.5 L163.5 237.5 L163.5 232.5 L163.5 231.5 L164.5 233.5 L164.5 236.5 L164.5 233.5 L164.5 236.5 L165.5 233.5 L165.5 237.5 L165.5 235.5 L165.5 232.5 L166.5 235.5 L166.5 238.5 L166.5 233.5 L167.5 235.5 L167.5 233.5 L168.5 238.5 L168.5 234.5 L168.5 233.5 L168.5 235.5 L169.5 236.5 L169.5 233.5 L169.5 236.5 L169.5 232.5 L170.5 237.5 L170.5 236.5 L171.5 231.5 L171.5 233.5 L171.5 234.5 L172.5 236.5 L172.5 233.5 L172.5 236.5 L173.5 233.5 L173.5 236.5 L173.5 237.5 L173.5 232.5 L174.5 233.5 L174.5 236.5 L174.5 234.5 L175.5 234.5 L175.5 236.5 L175.5 231.5 L176.5 235.5 L176.5 231.5 L176.5 236.5 L176.5 234.5 L177.5 236.5 L177.5 238.5 L177.5 231.5 L178.5 236.5 L178.5 233.5 L179.5 238.5 L179.5 235.5 L179.5 236.5 L179.5 232.5 L180.5 235.5 L180.5 236.5 L180.5 235.5 L180.5 236.5 L181.5 234.5 L181.5 232.5 L181.5 234.5 L181.5 232.5 L182.5 234.5 L182.5 237.5 L182.5 235.5 L183.5 235.5 L183.5 236.5 L184.5 236.5 L184.5 238.5 L184.5 233.5 L184.5 236.5 L185.5 232.5 L185.5 233.5 L185.5 238.5 L186.5 234.5 L186.5 235.5 L186.5 237.5 L187.5 238.5 L187.5 235.5 L187.5 236.5 L188.5 236.5 L188.5 237.5 L188.5 236.5 L189.5 236.5 L189.5 237.5 L189.5 235.5 L190.5 235.5 L190.5 232.5 L190.5 236.5 L191.5 237.5 L191.5 231.5 L191.5 233.5 L191.5 237.5 L192.5 233.5 L192.5 235.5 L192.5 236.5 L192.5 233.5 L193.5 236.5 L193.5 238.5 L193.5 230.5 L194.5 233.5 L194.5 235.5 L194.5 237.5 L195.5 235.5 L195.5 234.5 L195.5 231.5 L195.5 235.5 L196.5 236.5 L196.5 233.5 L196.5 235.5 L196.5 236.5 L197.5 234.5 L197.5 231.5 L197.5 232.5 L198.5 236.5 L198.5 235.5 L198.5 234.5 L199.5 236.5 L199.5 232.5 L199.5 233.5 L199.5 231.5 L200.5 237.5 L200.5 235.5 L200.5 234.5 L201.5 234.5 L201.5 233.5 L201.5 234.5 L201.5 236.5 L202.5 237.5 L202.5 238.5 L202.5 235.5 L202.5 233.5 L203.5 231.5 L203.5 230.5 L203.5 231.5 L203.5 235.5 L204.5 235.5 L204.5 236.5 L204.5 233.5 L205.5 234.5 L205.5 235.5 L205.5 232.5 L206.5 237.5 L206.5 236.5 L206.5 234.5 L206.5 238.5 L207.5 234.5 L207.5 233.5 L207.5 238.5 L207.5 231.5 L208.5 236.5 L208.5 235.5 L208.5 236.5 L209.5 235.5 L209.5 236.5 L209.5 235.5 L210.5 233.5 L210.5 234.5 L210.5 233.5 L210.5 238.5 L211.5 236.5 L211.5 234.5 L211.5 233.5 L212.5 233.5 L212.5 236.5 L213.5 236.5 L213.5 235.5 L213.5 232.5 L213.5 233.5 L214.5 237.5 L214.5 232.5 L214.5 236.5 L214.5 237.5 L215.5 231.5 L215.5 230.5 L215.5 232.5 L216.5 234.5 L216.5 233.5 L216.5 234.5 L217.5 235.5 L217.5 236.5 L217.5 233.5 L218.5 231.5 L218.5 238.5 L218.5 231.5 L218.5 235.5 L219.5 232.5 L219.5 233.5 L219.5 236.5 L220.5 238.5 L220.5 233.5 L220.5 234.5 L221.5 236.5 L221.5 233.5 L221.5 238.5 L221.5 235.5 L222.5 233.5 L222.5 236.5 L223.5 236.5 L223.5 232.5 L223.5 236.5 L223.5 233.5 L224.5 231.5 L224.5 236.5 L224.5 235.5 L225.5 234.5 L225.5 235.5 L225.5 236.5 L226.5 236.5 L226.5 234.5 L226.5 236.5 L227.5 238.5 L227.5 236.5 L227.5 233.5 L228.5 233.5 L228.5 236.5 L229.5 236.5 L229.5 231.5 L229.5 235.5 L229.5 236.5 L230.5 231.5 L230.5 236.5 L231.5 234.5 L231.5 231.5 L231.5 234.5 L231.5 233.5 L232.5 237.5 L232.5 235.5 L232.5 234.5 L233.5 235.5 L233.5 233.5 L233.5 236.5 L234.5 231.5 L234.5 236.5 L234.5 234.5 L235.5 237.5 L235.5 236.5 L235.5 235.5 L236.5 236.5 L236.5 237.5 L236.5 232.5 L236.5 236.5 L237.5 231.5 L237.5 237.5 L237.5 238.5 L238.5 237.5 L238.5 230.5 L238.5 232.5 L238.5 236.5 L239.5 236.5 L239.5 235.5 L239.5 231.5 L240.5 236.5 L240.5 233.5 L240.5 234.5 L240.5 237.5 L241.5 238.5 L241.5 233.5 L241.5 235.5 L242.5 237.5 L242.5 233.5 L242.5 235.5 L243.5 234.5 L243.5 237.5 L243.5 233.5 L243.5 234.5 L244.5 234.5 L244.5 236.5 L244.5 234.5 L244.5 235.5 L245.5 231.5 L245.5 233.5 L245.5 236.5 L246.5 237.5 L246.5 236.5 L246.5 234.5 L247.5 233.5 L247.5 232.5 L247.5 236.5 L247.5 237.5 L248.5 234.5 L248.5 238.5 L248.5 234.5 L249.5 232.5 L249.5 233.5 L249.5 238.5 L249.5 235.5 L250.5 232.5 L250.5 236.5 L251.5 235.5 L251.5 233.5 L251.5 236.5 L252.5 235.5 L252.5 234.5 L252.5 236.5 L253.5 236.5 L253.5 232.5 L254.5 232.5 L254.5 238.5 L254.5 235.5 L255.5 236.5 L255.5 233.5 L255.5 237.5 L255.5 233.5 L256.5 236.5 L256.5 237.5 L256.5 236.5 L257.5 236.5 L257.5 232.5 L257.5 235.5 L257.5 233.5 L258.5 235.5 L258.5 231.5 L258.5 234.5 L258.5 232.5 L259.5 234.5 L259.5 235.5 L259.5 238.5 L260.5 233.5 L260.5 236.5 L260.5 237.5 L260.5 234.5 L261.5 236.5 L261.5 235.5 L261.5 236.5 L261.5 234.5 L262.5 231.5 L262.5 236.5 L262.5 235.5 L263.5 231.5 L263.5 235.5 L263.5 233.5 L264.5 236.5 L264.5 238.5 L264.5 236.5 L264.5 234.5 L265.5 234.5 L265.5 233.5 L265.5 236.5 L265.5 233.5 L266.5 233.5 L266.5 235.5 L266.5 233.5 L266.5 236.5 L267.5 236.5 L267.5 233.5 L268.5 238.5 L268.5 233.5 L268.5 235.5 L268.5 236.5 L269.5 237.5 L269.5 235.5 L269.5 237.5 L270.5 233.5 L270.5 237.5 L270.5 235.5 L270.5 234.5 L271.5 234.5 L271.5 233.5 L272.5 234.5 L272.5 236.5 L272.5 235.5 L272.5 234.5 L273.5 231.5 L273.5 228.5 L273.5 230.5 L273.5 233.5 L274.5 231.5 L274.5 235.5 L274.5 233.5 L275.5 232.5 L275.5 229.5 L275.5 235.5 L275.5 234.5 L276.5 231.5 L276.5 226.5 L276.5 231.5 L276.5 230.5 L277.5 231.5 L277.5 229.5 L277.5 232.5 L278.5 233.5 L278.5 229.5 L278.5 230.5 L279.5 235.5 L279.5 231.5 L279.5 230.5 L279.5 227.5 L280.5 230.5 L280.5 228.5 L280.5 229.5 L280.5 231.5 L281.5 229.5 L281.5 227.5 L281.5 231.5 L281.5 228.5 L282.5 230.5 L282.5 232.5 L282.5 228.5 L283.5 231.5 L283.5 226.5 L283.5 228.5 L283.5 229.5 L284.5 228.5 L284.5 227.5 L284.5 231.5 L284.5 221.5 L285.5 223.5 L285.5 228.5 L285.5 229.5 L286.5 229.5 L286.5 227.5 L286.5 222.5 L287.5 226.5 L287.5 227.5 L287.5 222.5 L287.5 226.5 L288.5 225.5 L288.5 227.5 L288.5 226.5 L288.5 224.5 L289.5 220.5 L289.5 223.5 L289.5 222.5 L290.5 222.5 L290.5 220.5 L291.5 223.5 L291.5 216.5 L291.5 227.5 L291.5 224.5 L292.5 220.5 L292.5 225.5 L292.5 227.5 L292.5 217.5 L293.5 217.5 L293.5 223.5 L293.5 217.5 L294.5 222.5 L294.5 214.5 L294.5 219.5 L295.5 217.5 L295.5 219.5 L295.5 218.5 L295.5 221.5 L296.5 216.5 L296.5 210.5 L296.5 217.5 L297.5 215.5 L297.5 211.5 L297.5 209.5 L297.5 221.5 L298.5 215.5 L298.5 212.5 L298.5 211.5 L298.5 210.5 L299.5 213.5 L299.5 219.5 L299.5 217.5 L299.5 215.5 L300.5 211.5 L300.5 212.5 L300.5 215.5 L301.5 210.5 L301.5 214.5 L301.5 205.5 L301.5 209.5 L302.5 211.5 L302.5 204.5 L302.5 212.5 L303.5 212.5 L303.5 208.5 L303.5 202.5 L303.5 209.5 L304.5 209.5 L304.5 211.5 L304.5 197.5 L305.5 197.5 L305.5 210.5 L305.5 209.5 L305.5 202.5 L306.5 206.5 L306.5 194.5 L306.5 210.5 L307.5 209.5 L307.5 196.5 L307.5 198.5 L308.5 195.5 L308.5 194.5 L308.5 191.5 L308.5 198.5 L309.5 184.5 L309.5 181.5 L309.5 185.5 L309.5 180.5 L310.5 179.5 L310.5 193.5 L310.5 166.5 L310.5 185.5 L311.5 181.5 L311.5 180.5 L311.5 172.5 L312.5 181.5 L312.5 177.5 L312.5 182.5 L313.5 187.5 L313.5 165.5 L313.5 178.5 L313.5 161.5 L314.5 173.5 L314.5 178.5 L314.5 177.5 L314.5 165.5 L315.5 170.5 L315.5 167.5 L315.5 179.5 L316.5 168.5 L316.5 179.5 L316.5 154.5 L316.5 160.5 L317.5 170.5 L317.5 163.5 L317.5 174.5 L318.5 167.5 L318.5 165.5 L318.5 166.5 L319.5 161.5 L319.5 158.5 L319.5 166.5 L320.5 161.5 L320.5 163.5 L320.5 152.5 L320.5 164.5 L321.5 172.5 L321.5 166.5 L321.5 150.5 L321.5 159.5 L322.5 148.5 L322.5 163.5 L322.5 156.5 L323.5 162.5 L323.5 165.5 L323.5 159.5 L323.5 156.5 L324.5 157.5 L324.5 161.5 L324.5 151.5 L324.5 148.5 L325.5 154.5 L325.5 149.5 L325.5 167.5 L326.5 151.5 L326.5 152.5 L326.5 139.5 L327.5 139.5 L327.5 154.5 L327.5 148.5 L327.5 155.5 L328.5 154.5 L328.5 149.5 L328.5 162.5 L328.5 139.5 L329.5 158.5 L329.5 160.5 L329.5 155.5 L329.5 142.5 L330.5 147.5 L330.5 132.5 L330.5 156.5 L331.5 142.5 L331.5 123.5 L331.5 139.5 L331.5 143.5 L332.5 139.5 L332.5 143.5 L332.5 128.5 L332.5 136.5 L333.5 139.5 L333.5 128.5 L333.5 132.5 L334.5 148.5 L334.5 131.5 L334.5 124.5 L334.5 140.5 L335.5 137.5 L335.5 130.5 L335.5 137.5 L335.5 126.5 L336.5 137.5 L336.5 126.5 L336.5 121.5 L337.5 131.5 L337.5 130.5 L337.5 114.5 L338.5 141.5 L338.5 137.5 L338.5 130.5 L338.5 124.5 L339.5 142.5 L339.5 126.5 L339.5 119.5 L339.5 149.5 L340.5 127.5 L340.5 148.5 L340.5 128.5 L340.5 138.5 L341.5 121.5 L341.5 128.5 L341.5 137.5 L342.5 121.5 L342.5 130.5 L342.5 117.5 L342.5 126.5 L343.5 119.5 L343.5 118.5 L343.5 127.5 L343.5 124.5 L344.5 118.5 L344.5 123.5 L344.5 136.5 L345.5 130.5 L345.5 120.5 L345.5 124.5 L345.5 127.5 L346.5 125.5 L346.5 128.5 L346.5 129.5 L346.5 125.5 L347.5 130.5 L347.5 139.5 L347.5 131.5 L347.5 129.5 L348.5 128.5 L348.5 146.5 L348.5 122.5 L349.5 133.5 L349.5 127.5 L349.5 124.5 L350.5 138.5 L350.5 144.5 L350.5 134.5 L351.5 116.5 L351.5 136.5 L351.5 133.5 L351.5 127.5 L352.5 132.5 L352.5 129.5 L352.5 117.5 L353.5 130.5 L353.5 121.5 L353.5 138.5 L354.5 137.5 L354.5 130.5 L354.5 126.5 L354.5 134.5 L355.5 124.5 L355.5 141.5 L355.5 138.5 L355.5 137.5 L356.5 131.5 L356.5 129.5 L356.5 119.5 L357.5 132.5 L357.5 126.5 L357.5 140.5 L357.5 131.5 L358.5 139.5 L358.5 132.5 L358.5 134.5 L358.5 126.5 L359.5 132.5 L359.5 131.5 L359.5 135.5 L360.5 125.5 L360.5 138.5 L360.5 142.5 L360.5 121.5 L361.5 140.5 L361.5 137.5 L361.5 134.5 L361.5 128.5 L362.5 131.5 L362.5 133.5 L362.5 144.5 L362.5 140.5 L363.5 140.5 L363.5 135.5 L363.5 139.5 L364.5 130.5 L364.5 142.5 L364.5 149.5 L365.5 150.5 L365.5 133.5 L365.5 142.5 L365.5 140.5 L366.5 140.5 L366.5 156.5 L366.5 131.5 L366.5 150.5 L367.5 146.5 L367.5 150.5 L367.5 148.5 L368.5 151.5 L368.5 142.5 L368.5 136.5 L368.5 133.5 L369.5 144.5 L369.5 141.5 L369.5 143.5 L369.5 144.5 L370.5 144.5 L370.5 141.5 L370.5 149.5 L371.5 145.5 L371.5 148.5 L371.5 149.5 L371.5 141.5 L372.5 160.5 L372.5 157.5 L372.5 165.5 L372.5 156.5 L373.5 148.5 L373.5 149.5 L373.5 148.5 L373.5 145.5 L374.5 155.5 L374.5 149.5 L374.5 145.5 L375.5 153.5 L375.5 163.5 L375.5 159.5 L375.5 161.5 L376.5 158.5 L376.5 151.5 L376.5 166.5 L376.5 159.5 L377.5 161.5 L377.5 174.5 L377.5 151.5 L377.5 154.5 L378.5 164.5 L378.5 163.5 L378.5 169.5 L379.5 170.5 L379.5 161.5 L379.5 169.5 L379.5 155.5 L380.5 165.5 L380.5 163.5 L380.5 171.5 L381.5 162.5 L381.5 154.5 L381.5 162.5 L382.5 174.5 L382.5 165.5 L382.5 160.5 L383.5 162.5 L383.5 176.5 L383.5 170.5 L383.5 159.5 L384.5 183.5 L384.5 173.5 L384.5 177.5 L384.5 181.5 L385.5 177.5 L385.5 180.5 L385.5 166.5 L386.5 176.5 L386.5 172.5 L386.5 182.5 L386.5 162.5 L387.5 182.5 L387.5 172.5 L387.5 177.5 L387.5 181.5 L388.5 172.5 L388.5 163.5 L388.5 178.5 L388.5 182.5 L389.5 180.5 L389.5 176.5 L389.5 171.5 L390.5 181.5 L390.5 172.5 L390.5 180.5 L390.5 173.5 L391.5 176.5 L391.5 182.5 L391.5 183.5 L391.5 179.5 L392.5 182.5 L392.5 190.5 L392.5 180.5 L392.5 173.5 L393.5 179.5 L393.5 175.5 L393.5 174.5 L394.5 179.5 L394.5 182.5 L394.5 179.5 L395.5 172.5 L395.5 186.5 L395.5 183.5 L395.5 173.5 L396.5 184.5 L396.5 178.5 L396.5 187.5 L397.5 185.5 L397.5 192.5 L397.5 175.5 L397.5 192.5 L398.5 182.5 L398.5 199.5 L398.5 187.5 L398.5 184.5 L399.5 192.5 L399.5 188.5 L399.5 190.5 L399.5 189.5 L400.5 182.5 L400.5 190.5 L400.5 189.5 L401.5 194.5 L401.5 183.5 L401.5 193.5 L401.5 194.5 L402.5 185.5 L402.5 196.5 L402.5 194.5 L402.5 181.5 L403.5 198.5 L403.5 193.5 L403.5 203.5 L403.5 195.5 L404.5 198.5 L404.5 183.5 L404.5 189.5 L405.5 197.5 L405.5 191.5 L405.5 194.5 L405.5 195.5 L406.5 192.5 L406.5 198.5 L406.5 195.5 L406.5 192.5 L407.5 192.5 L407.5 196.5 L407.5 198.5 L408.5 203.5 L408.5 202.5 L408.5 198.5 L408.5 201.5 L409.5 203.5 L409.5 195.5 L409.5 205.5 L409.5 206.5 L410.5 196.5 L410.5 191.5 L410.5 198.5 L410.5 205.5 L411.5 207.5 L411.5 202.5 L411.5 205.5 L412.5 213.5 L412.5 214.5 L412.5 225.5 L413.5 225.5 L413.5 226.5 L413.5 231.5 L413.5 232.5 L414.5 235.5 L414.5 236.5 L414.5 239.5 L415.5 236.5 L415.5 238.5 L415.5 239.5 L416.5 238.5 L416.5 237.5 L416.5 239.5 L416.5 238.5 L417.5 238.5 L417.5 239.5 L417.5 238.5 L418.5 236.5 L418.5 238.5 L419.5 238.5 L419.5 239.5 L419.5 238.5 L420.5 239.5 L420.5 238.5 L421.5 238.5 L421.5 237.5 L421.5 236.5 L421.5 238.5 L422.5 236.5 L422.5 238.5 L422.5 236.5 L423.5 238.5 L423.5 237.5 L423.5 239.5 L424.5 236.5 L424.5 234.5 L424.5 238.5 L425.5 238.5 L425.5 237.5 L425.5 239.5 L426.5 236.5 L426.5 237.5 L426.5 238.5 L427.5 238.5 L427.5 235.5 L428.5 239.5 L428.5 236.5 L428.5 239.5 L428.5 238.5 L429.5 237.5 L429.5 238.5 L429.5 239.5 L430.5 237.5 L430.5 238.5 L430.5 231.5 L431.5 238.5 L431.5 239.5 L431.5 237.5 L432.5 237.5 L432.5 238.5 L432.5 237.5 L432.5 238.5 L433.5 237.5 L433.5 238.5 L433.5 239.5 L434.5 238.5 L434.5 237.5 L434.5 238.5 L434.5 239.5 L435.5 238.5 L435.5 239.5 L435.5 238.5 L436.5 238.5 L437.5 238.5 L437.5 239.5 L438.5 239.5 L438.5 238.5 L438.5 237.5 L439.5 238.5 L439.5 235.5 L439.5 238.5 L440.5 238.5 L440.5 239.5 L441.5 238.5 L442.5 237.5 L442.5 228.5 L443.5 238.5 L443.5 237.5 L443.5 232.5 L443.5 238.5 L444.5 239.5 L444.5 238.5 L445.5 237.5 L445.5 238.5 L445.5 234.5" stroke-width="1"/>
<path d="M93.5 433.5 L93.5 437.5 L94.5 430.5 L94.5 428.5 L94.5 433.5 L95.5 431.5 L95.5 434.5 L95.5 430.5 L95.5 433.5 L96.5 433.5 L96.5 430.5 L96.5 432.5 L96.5 434.5 L97.5 433.5 L97.5 434.5 L97.5 437.5 L98.5 434.5 L98.5 432.5 L98.5 435.5 L98.5 434.5 L99.5 434.5 L99.5 430.5 L100.5 429.5 L100.5 428.5 L100.5 432.5 L101.5 434.5 L101.5 437.5 L101.5 434.5 L102.5 433.5 L102.5 436.5 L102.5 431.5 L102.5 436.5 L103.5 435.5 L103.5 437.5 L103.5 434.5 L104.5 430.5 L104.5 435.5 L104.5 436.5 L105.5 437.5 L105.5 435.5 L105.5 432.5 L105.5 437.5 L106.5 434.5 L106.5 432.5 L106.5 434.5 L106.5 432.5 L107.5 430.5 L107.5 433.5 L107.5 435.5 L107.5 434.5 L108.5 434.5 L108.5 432.5 L109.5 428.5 L109.5 430.5 L109.5 436.5 L110.5 434.5 L110.5 433.5 L110.5 436.5 L110.5 437.5 L111.5 434.5 L111.5 435.5 L112.5 433.5 L112.5 434.5 L112.5 431.5 L113.5 433.5 L113.5 432.5 L114.5 434.5 L114.5 430.5 L114.5 434.5 L115.5 433.5 L115.5 437.5 L115.5 433.5 L116.5 434.5 L116.5 431.5 L116.5 437.5 L116.5 431.5 L117.5 432.5 L117.5 434.5 L118.5 435.5 L118.5 430.5 L118.5 434.5 L119.5 434.5 L119.5 433.5 L119.5 434.5 L120.5 434.5 L120.5 435.5 L120.5 434.5 L120.5 435.5 L121.5 434.5 L121.5 437.5 L121.5 432.5 L121.5 433.5 L122.5 437.5 L122.5 434.5 L122.5 433.5 L122.5 432.5 L123.5 434.5 L123.5 433.5 L123.5 434.5 L124.5 434.5 L124.5 432.5 L124.5 433.5 L125.5 434.5 L125.5 436.5 L125.5 434.5 L125.5 431.5 L126.5 435.5 L126.5 434.5 L126.5 433.5 L127.5 434.5 L127.5 429.5 L127.5 433.5 L127.5 432.5 L128.5 434.5 L128.5 431.5 L128.5 434.5 L128.5 436.5 L129.5 431.5 L129.5 430.5 L129.5 433.5 L130.5 436.5 L130.5 430.5 L130.5 432.5 L131.5 436.5 L131.5 434.5 L131.5 432.5 L131.5 433.5 L132.5 436.5 L132.5 433.5 L132.5 432.5 L133.5 430.5 L133.5 436.5 L133.5 432.5 L133.5 435.5 L134.5 430.5 L134.5 434.5 L135.5 431.5 L135.5 432.5 L136.5 434.5 L136.5 432.5 L136.5 428.5 L137.5 432.5 L137.5 435.5 L137.5 434.5 L138.5 434.5 L138.5 436.5 L138.5 435.5 L138.5 431.5 L139.5 437.5 L139.5 433.5 L139.5 434.5 L139.5 430.5 L140.5 436.5 L140.5 435.5 L140.5 430.5 L140.5 436.5 L141.5 430.5 L141.5 435.5 L141.5 434.5 L142.5 430.5 L142.5 435.5 L142.5 430.5 L142.5 435.5 L143.5 433.5 L143.5 434.5 L143.5 430.5 L143.5 431.5 L144.5 434.5 L144.5 435.5 L144.5 433.5 L144.5 432.5 L145.5 430.5 L145.5 434.5 L145.5 437.5 L146.5 434.5 L146.5 436.5 L146.5 434.5 L147.5 434.5 L147.5 433.5 L147.5 437.5 L147.5 434.5 L148.5 434.5 L148.5 433.5 L148.5 429.5 L149.5 433.5 L149.5 434.5 L149.5 433.5 L150.5 429.5 L150.5 431.5 L150.5 433.5 L150.5 431.5 L151.5 430.5 L151.5 429.5 L151.5 431.5 L152.5 434.5 L152.5 436.5 L153.5 434.5 L153.5 427.5 L153.5 433.5 L153.5 430.5 L154.5 430.5 L154.5 434.5 L154.5 432.5 L154.5 437.5 L155.5 430.5 L155.5 437.5 L155.5 433.5 L155.5 431.5 L156.5 430.5 L156.5 435.5 L157.5 430.5 L157.5 435.5 L157.5 434.5 L157.5 435.5 L158.5 433.5 L158.5 430.5 L158.5 427.5 L158.5 433.5 L159.5 435.5 L159.5 432.5 L159.5 427.5 L159.5 434.5 L160.5 434.5 L160.5 430.5 L161.5 430.5 L161.5 432.5 L161.5 431.5 L161.5 432.5 L162.5 432.5 L162.5 435.5 L162.5 432.5 L162.5 433.5 L163.5 437.5 L163.5 432.5 L163.5 431.5 L164.5 430.5 L164.5 434.5 L164.5 435.5 L165.5 435.5 L165.5 427.5 L165.5 434.5 L165.5 436.5 L166.5 436.5 L166.5 433.5 L166.5 437.5 L166.5 430.5 L167.5 430.5 L167.5 436.5 L167.5 434.5 L168.5 431.5 L168.5 436.5 L169.5 435.5 L169.5 433.5 L169.5 428.5 L170.5 433.5 L170.5 436.5 L170.5 437.5 L170.5 430.5 L171.5 436.5 L171.5 435.5 L171.5 438.5 L172.5 434.5 L172.5 432.5 L172.5 433.5 L172.5 434.5 L173.5 435.5 L173.5 434.5 L173.5 430.5 L174.5 433.5 L174.5 434.5 L174.5 437.5 L175.5 432.5 L175.5 434.5 L175.5 432.5 L175.5 434.5 L176.5 431.5 L176.5 432.5 L176.5 435.5 L177.5 433.5 L177.5 430.5 L177.5 432.5 L177.5 434.5 L178.5 434.5 L178.5 432.5 L178.5 437.5 L179.5 436.5 L179.5 429.5 L179.5 431.5 L179.5 428.5 L180.5 432.5 L180.5 433.5 L180.5 430.5 L181.5 431.5 L181.5 433.5 L181.5 436.5 L181.5 434.5 L182.5 433.5 L182.5 432.5 L183.5 433.5 L183.5 434.5 L183.5 436.5 L183.5 434.5 L184.5 437.5 L184.5 432.5 L184.5 434.5 L185.5 431.5 L185.5 434.5 L185.5 430.5 L186.5 434.5 L186.5 436.5 L186.5 434.5 L186.5 430.5 L187.5 434.5 L187.5 436.5 L188.5 432.5 L188.5 437.5 L188.5 433.5 L189.5 434.5 L189.5 431.5 L189.5 433.5 L190.5 433.5 L190.5 434.5 L190.5 431.5 L190.5 434.5 L191.5 434.5 L191.5 430.5 L191.5 434.5 L192.5 434.5 L192.5 436.5 L192.5 434.5 L192.5 436.5 L193.5 434.5 L193.5 430.5 L194.5 434.5 L194.5 430.5 L195.5 434.5 L195.5 436.5 L196.5 433.5 L196.5 432.5 L196.5 434.5 L196.5 432.5 L197.5 433.5 L197.5 432.5 L197.5 428.5 L198.5 429.5 L198.5 434.5 L198.5 433.5 L198.5 434.5 L199.5 437.5 L199.5 433.5 L199.5 430.5 L200.5 428.5 L200.5 434.5 L201.5 434.5 L201.5 433.5 L201.5 431.5 L202.5 432.5 L202.5 431.5 L202.5 430.5 L202.5 436.5 L203.5 433.5 L203.5 436.5 L203.5 433.5 L204.5 429.5 L204.5 433.5 L204.5 434.5 L205.5 433.5 L205.5 434.5 L205.5 435.5 L205.5 431.5 L206.5 434.5 L206.5 430.5 L206.5 432.5 L207.5 437.5 L207.5 433.5 L207.5 434.5 L207.5 433.5 L208.5 435.5 L208.5 434.5 L208.5 433.5 L209.5 434.5 L209.5 436.5 L209.5 430.5 L209.5 433.5 L210.5 434.5 L210.5 432.5 L210.5 436.5 L210.5 432.5 L211.5 428.5 L211.5 432.5 L211.5 430.5 L212.5 434.5 L212.5 433.5 L212.5 434.5 L212.5 432.5 L213.5 434.5 L213.5 436.5 L213.5 427.5 L213.5 437.5 L214.5 431.5 L214.5 437.5 L214.5 430.5 L214.5 434.5 L215.5 435.5 L215.5 434.5 L215.5 435.5 L216.5 435.5 L216.5 432.5 L216.5 433.5 L216.5 431.5 L217.5 431.5 L217.5 429.5 L217.5 437.5 L217.5 432.5 L218.5 437.5 L218.5 434.5 L218.5 437.5 L218.5 430.5 L219.5 435.5 L219.5 437.5 L219.5 434.5 L220.5 430.5 L220.5 434.5 L220.5 432.5 L220.5 431.5 L221.5 435.5 L221.5 434.5 L222.5 434.5 L222.5 430.5 L222.5 431.5 L223.5 434.5 L223.5 433.5 L223.5 429.5 L223.5 433.5 L224.5 433.5 L224.5 434.5 L224.5 435.5 L225.5 430.5 L225.5 436.5 L225.5 434.5 L226.5 430.5 L226.5 434.5 L226.5 436.5 L227.5 430.5 L227.5 429.5 L227.5 434.5 L227.5 435.5 L228.5 431.5 L228.5 437.5 L228.5 434.5 L229.5 430.5 L229.5 435.5 L229.5 430.5 L229.5 434.5 L230.5 433.5 L230.5 436.5 L230.5 435.5 L231.5 434.5 L231.5 432.5 L231.5 433.5 L231.5 434.5 L232.5 433.5 L232.5 435.5 L232.5 436.5 L232.5 434.5 L233.5 434.5 L233.5 433.5 L234.5 429.5 L234.5 437.5 L234.5 434.5 L235.5 428.5 L235.5 434.5 L235.5 432.5 L235.5 434.5 L236.5 431.5 L236.5 434.5 L236.5 430.5 L237.5 434.5 L237.5 430.5 L238.5 434.5 L238.5 433.5 L238.5 434.5 L238.5 432.5 L239.5 430.5 L239.5 427.5 L239.5 431.5 L239.5 433.5 L240.5 427.5 L240.5 428.5 L240.5 433.5 L240.5 434.5 L241.5 435.5 L241.5 434.5 L241.5 432.5 L242.5 430.5 L242.5 429.5 L242.5 434.5 L243.5 430.5 L243.5 434.5 L243.5 433.5 L243.5 432.5 L244.5 437.5 L244.5 435.5 L244.5 433.5 L245.5 430.5 L245.5 432.5 L245.5 429.5 L246.5 432.5 L246.5 434.5 L246.5 431.5 L246.5 438.5 L247.5 430.5 L247.5 431.5 L247.5 433.5 L247.5 436.5 L248.5 437.5 L248.5 434.5 L248.5 430.5 L249.5 434.5 L249.5 433.5 L249.5 435.5 L249.5 434.5 L250.5 430.5 L250.5 436.5 L250.5 434.5 L250.5 435.5 L251.5 435.5 L251.5 434.5 L251.5 435.5 L251.5 434.5 L252.5 435.5 L252.5 434.5 L252.5 435.5 L253.5 432.5 L253.5 436.5 L253.5 434.5 L253.5 436.5 L254.5 432.5 L254.5 437.5 L254.5 430.5 L254.5 433.5 L255.5 436.5 L255.5 434.5 L255.5 431.5 L255.5 435.5 L256.5 433.5 L256.5 436.5 L256.5 430.5 L257.5 433.5 L257.5 432.5 L257.5 430.5 L257.5 434.5 L258.5 429.5 L258.5 432.5 L258.5 434.5 L258.5 431.5 L259.5 430.5 L259.5 436.5 L260.5 434.5 L260.5 433.5 L260.5 434.5 L260.5 432.5 L261.5 434.5 L261.5 431.5 L261.5 434.5 L262.5 436.5 L262.5 433.5 L262.5 434.5 L262.5 432.5 L263.5 432.5 L263.5 436.5 L263.5 434.5 L264.5 433.5 L264.5 432.5 L264.5 430.5 L264.5 433.5 L265.5 432.5 L265.5 430.5 L265.5 434.5 L265.5 432.5 L266.5 432.5 L266.5 431.5 L266.5 434.5 L266.5 437.5 L267.5 431.5 L267.5 436.5 L267.5 432.5 L268.5 430.5 L268.5 434.5 L269.5 433.5 L269.5 435.5 L269.5 433.5 L269.5 432.5 L270.5 435.5 L270.5 434.5 L270.5 435.5 L270.5 431.5 L271.5 436.5 L271.5 431.5 L271.5 434.5 L272.5 433.5 L272.5 430.5 L272.5 432.5 L273.5 429.5 L273.5 431.5 L274.5 433.5 L274.5 432.5 L274.5 431.5 L275.5 427.5 L275.5 428.5 L275.5 426.5 L275.5 432.5 L276.5 430.5 L276.5 432.5 L276.5 430.5 L277.5 428.5 L277.5 431.5 L277.5 432.5 L277.5 426.5 L278.5 427.5 L278.5 434.5 L278.5 428.5 L279.5 429.5 L279.5 426.5 L279.5 429.5 L279.5 426.5 L280.5 426.5 L280.5 427.5 L280.5 426.5 L281.5 422.5 L281.5 425.5 L281.5 424.5 L281.5 426.5 L282.5 421.5 L282.5 427.5 L282.5 420.5 L283.5 420.5 L283.5 422.5 L283.5 421.5 L284.5 423.5 L284.5 424.5 L284.5 419.5 L284.5 415.5 L285.5 422.5 L285.5 419.5 L285.5 423.5 L286.5 417.5 L286.5 418.5 L286.5 420.5 L287.5 422.5 L287.5 425.5 L287.5 423.5 L287.5 419.5 L288.5 419.5 L288.5 415.5 L288.5 414.5 L288.5 419.5 L289.5 421.5 L289.5 414.5 L289.5 421.5 L290.5 423.5 L290.5 417.5 L290.5 422.5 L290.5 421.5 L291.5 417.5 L291.5 413.5 L291.5 419.5 L291.5 412.5 L292.5 415.5 L292.5 410.5 L292.5 419.5 L292.5 417.5 L293.5 417.5 L293.5 419.5 L294.5 412.5 L294.5 408.5 L294.5 415.5 L294.5 410.5 L295.5 415.5 L295.5 417.5 L295.5 410.5 L295.5 416.5 L296.5 412.5 L296.5 408.5 L296.5 405.5 L297.5 410.5 L297.5 415.5 L297.5 410.5 L298.5 411.5 L298.5 410.5 L298.5 403.5 L299.5 403.5 L299.5 411.5 L299.5 405.5 L299.5 413.5 L300.5 406.5 L300.5 403.5 L300.5 406.5 L301.5 407.5 L301.5 400.5 L301.5 402.5 L301.5 407.5 L302.5 405.5 L302.5 402.5 L302.5 396.5 L303.5 405.5 L303.5 396.5 L303.5 399.5 L303.5 392.5 L304.5 399.5 L304.5 397.5 L304.5 407.5 L305.5 394.5 L305.5 401.5 L305.5 397.5 L305.5 385.5 L306.5 387.5 L306.5 384.5 L306.5 386.5 L307.5 380.5 L307.5 368.5 L307.5 377.5 L308.5 375.5 L308.5 364.5 L308.5 380.5 L308.5 365.5 L309.5 372.5 L309.5 378.5 L309.5 375.5 L309.5 370.5 L310.5 381.5 L310.5 373.5 L310.5 357.5 L310.5 364.5 L311.5 367.5 L311.5 366.5 L311.5 354.5 L312.5 361.5 L312.5 364.5 L312.5 367.5 L312.5 362.5 L313.5 379.5 L313.5 369.5 L313.5 364.5 L313.5 370.5 L314.5 380.5 L314.5 375.5 L314.5 373.5 L314.5 361.5 L315.5 370.5 L315.5 371.5 L316.5 369.5 L316.5 344.5 L316.5 369.5 L316.5 368.5 L317.5 358.5 L317.5 357.5 L317.5 354.5 L317.5 353.5 L318.5 343.5 L318.5 368.5 L318.5 360.5 L318.5 343.5 L319.5 352.5 L319.5 370.5 L319.5 353.5 L320.5 347.5 L320.5 360.5 L320.5 333.5 L321.5 364.5 L321.5 352.5 L321.5 347.5 L322.5 335.5 L322.5 350.5 L322.5 340.5 L323.5 349.5 L323.5 358.5 L323.5 335.5 L323.5 343.5 L324.5 342.5 L324.5 337.5 L324.5 351.5 L324.5 340.5 L325.5 330.5 L325.5 351.5 L325.5 330.5 L325.5 338.5 L326.5 344.5 L326.5 329.5 L326.5 335.5 L327.5 324.5 L327.5 337.5 L328.5 343.5 L328.5 356.5 L328.5 328.5 L328.5 342.5 L329.5 323.5 L329.5 343.5 L329.5 337.5 L329.5 323.5 L330.5 355.5 L330.5 354.5 L330.5 340.5 L331.5 343.5 L331.5 342.5 L331.5 340.5 L331.5 326.5 L332.5 344.5 L332.5 332.5 L332.5 323.5 L332.5 333.5 L333.5 340.5 L333.5 331.5 L333.5 343.5 L334.5 346.5 L334.5 333.5 L334.5 336.5 L334.5 342.5 L335.5 326.5 L335.5 323.5 L335.5 329.5 L335.5 326.5 L336.5 337.5 L336.5 348.5 L336.5 335.5 L336.5 338.5 L337.5 329.5 L337.5 336.5 L337.5 344.5 L338.5 340.5 L338.5 333.5 L338.5 340.5 L338.5 335.5 L339.5 337.5 L339.5 339.5 L339.5 338.5 L340.5 337.5 L340.5 336.5 L340.5 331.5 L340.5 341.5 L341.5 334.5 L341.5 318.5 L341.5 330.5 L342.5 332.5 L342.5 328.5 L342.5 339.5 L342.5 336.5 L343.5 332.5 L343.5 341.5 L343.5 334.5 L343.5 326.5 L344.5 340.5 L344.5 325.5 L344.5 334.5 L345.5 342.5 L345.5 323.5 L345.5 343.5 L345.5 324.5 L346.5 345.5 L346.5 331.5 L346.5 340.5 L346.5 332.5 L347.5 333.5 L347.5 324.5 L347.5 339.5 L347.5 342.5 L348.5 338.5 L348.5 322.5 L348.5 344.5 L349.5 334.5 L349.5 343.5 L349.5 349.5 L349.5 336.5 L350.5 348.5 L350.5 338.5 L350.5 357.5 L351.5 352.5 L351.5 329.5 L351.5 344.5 L351.5 353.5 L352.5 342.5 L352.5 328.5 L352.5 349.5 L353.5 331.5 L353.5 342.5 L353.5 349.5 L353.5 342.5 L354.5 345.5 L354.5 348.5 L354.5 349.5 L355.5 353.5 L355.5 350.5 L355.5 348.5 L355.5 337.5 L356.5 350.5 L356.5 344.5 L356.5 342.5 L357.5 352.5 L357.5 354.5 L357.5 357.5 L357.5 348.5 L358.5 353.5 L358.5 358.5 L358.5 346.5 L358.5 344.5 L359.5 354.5 L359.5 353.5 L359.5 342.5 L360.5 356.5 L360.5 347.5 L360.5 359.5 L360.5 352.5 L361.5 339.5 L361.5 337.5 L361.5 353.5 L362.5 337.5 L362.5 353.5 L362.5 344.5 L362.5 343.5 L363.5 359.5 L363.5 352.5 L363.5 343.5 L364.5 362.5 L364.5 345.5 L364.5 346.5 L364.5 358.5 L365.5 349.5 L365.5 361.5 L365.5 352.5 L365.5 349.5 L366.5 344.5 L366.5 356.5 L366.5 344.5 L366.5 368.5 L367.5 361.5 L367.5 356.5 L367.5 350.5 L368.5 342.5 L368.5 352.5 L368.5 359.5 L368.5 354.5 L369.5 364.5 L369.5 346.5 L369.5 356.5 L369.5 349.5 L370.5 358.5 L370.5 352.5 L370.5 363.5 L371.5 356.5 L371.5 345.5 L371.5 348.5 L371.5 360.5 L372.5 360.5 L372.5 362.5 L372.5 367.5 L372.5 351.5 L373.5 356.5 L373.5 368.5 L373.5 360.5 L373.5 367.5 L374.5 373.5 L374.5 365.5 L374.5 372.5 L375.5 371.5 L375.5 374.5 L375.5 372.5 L375.5 379.5 L376.5 373.5 L376.5 360.5 L376.5 377.5 L376.5 376.5 L377.5 369.5 L377.5 372.5 L377.5 360.5 L377.5 376.5 L378.5 375.5 L378.5 376.5 L379.5 376.5 L379.5 377.5 L380.5 381.5 L380.5 369.5 L380.5 380.5 L380.5 378.5 L381.5 381.5 L381.5 384.5 L381.5 372.5 L382.5 381.5 L382.5 373.5 L382.5 382.5 L382.5 371.5 L383.5 379.5 L383.5 373.5 L383.5 385.5 L383.5 380.5 L384.5 383.5 L384.5 384.5 L384.5 380.5 L384.5 372.5 L385.5 383.5 L385.5 381.5 L385.5 379.5 L386.5 390.5 L386.5 386.5 L386.5 380.5 L386.5 395.5 L387.5 390.5 L387.5 380.5 L387.5 384.5 L388.5 382.5 L388.5 391.5 L388.5 396.5 L388.5 375.5 L389.5 394.5 L389.5 382.5 L389.5 396.5 L390.5 388.5 L390.5 381.5 L390.5 384.5 L390.5 389.5 L391.5 390.5 L391.5 385.5 L391.5 387.5 L392.5 394.5 L392.5 392.5 L392.5 400.5 L392.5 390.5 L393.5 387.5 L393.5 392.5 L393.5 402.5 L394.5 397.5 L394.5 391.5 L394.5 394.5 L394.5 390.5 L395.5 394.5 L395.5 393.5 L395.5 395.5 L395.5 402.5 L396.5 385.5 L396.5 390.5 L396.5 387.5 L397.5 397.5 L397.5 390.5 L397.5 388.5 L397.5 405.5 L398.5 397.5 L398.5 394.5 L398.5 396.5 L398.5 395.5 L399.5 390.5 L399.5 400.5 L400.5 396.5 L400.5 401.5 L400.5 391.5 L401.5 402.5 L401.5 394.5 L401.5 395.5 L401.5 398.5 L402.5 402.5 L402.5 388.5 L402.5 401.5 L402.5 398.5 L403.5 401.5 L403.5 392.5 L403.5 404.5 L403.5 400.5 L404.5 394.5 L405.5 403.5 L405.5 400.5 L405.5 406.5 L405.5 402.5 L406.5 400.5 L406.5 411.5 L406.5 396.5 L407.5 400.5 L407.5 398.5 L407.5 405.5 L408.5 393.5 L408.5 404.5 L408.5 408.5 L408.5 402.5 L409.5 413.5 L409.5 405.5 L409.5 404.5 L410.5 401.5 L410.5 399.5 L410.5 407.5 L410.5 406.5 L411.5 406.5 L411.5 416.5 L412.5 416.5 L412.5 420.5 L412.5 424.5 L413.5 429.5 L413.5 432.5 L413.5 434.5 L413.5 427.5 L414.5 434.5 L414.5 429.5 L414.5 438.5 L414.5 439.5 L415.5 437.5 L415.5 436.5 L416.5 437.5 L416.5 436.5 L416.5 437.5 L416.5 435.5 L417.5 434.5 L417.5 437.5 L417.5 436.5 L417.5 437.5 L418.5 438.5 L418.5 439.5 L418.5 436.5 L419.5 437.5 L419.5 438.5 L419.5 434.5 L419.5 437.5 L420.5 436.5 L420.5 437.5 L420.5 434.5 L420.5 438.5 L421.5 436.5 L421.5 438.5 L422.5 435.5 L422.5 437.5 L423.5 436.5 L423.5 437.5 L423.5 436.5 L424.5 435.5 L424.5 438.5 L424.5 434.5 L424.5 437.5 L425.5 435.5 L425.5 437.5 L425.5 435.5 L426.5 438.5 L426.5 437.5 L426.5 436.5 L427.5 437.5 L427.5 438.5 L428.5 434.5 L428.5 437.5 L429.5 436.5 L429.5 437.5 L429.5 438.5 L429.5 436.5 L430.5 439.5 L430.5 437.5 L430.5 436.5 L431.5 437.5 L431.5 439.5 L431.5 433.5 L431.5 437.5 L432.5 437.5 L433.5 438.5 L433.5 437.5 L433.5 438.5 L434.5 437.5 L434.5 436.5 L434.5 437.5 L435.5 437.5 L435.5 438.5 L436.5 435.5 L436.5 438.5 L436.5 433.5 L436.5 437.5 L437.5 435.5 L437.5 437.5 L437.5 438.5 L438.5 437.5 L438.5 438.5 L438.5 437.5 L439.5 436.5 L439.5 435.5 L440.5 432.5 L440.5 436.5 L440.5 434.5 L440.5 437.5 L441.5 429.5 L441.5 433.5 L442.5 437.5 L442.5 432.5 L442.5 434.5 L442.5 437.5 L443.5 434.5 L443.5 433.5 L444.5 434.5 L444.5 435.5 L445.5 434.5 L445.5 436.5 L445.5 434.5" stroke-width="1"/>
</g>
</svg>
</body></html>
